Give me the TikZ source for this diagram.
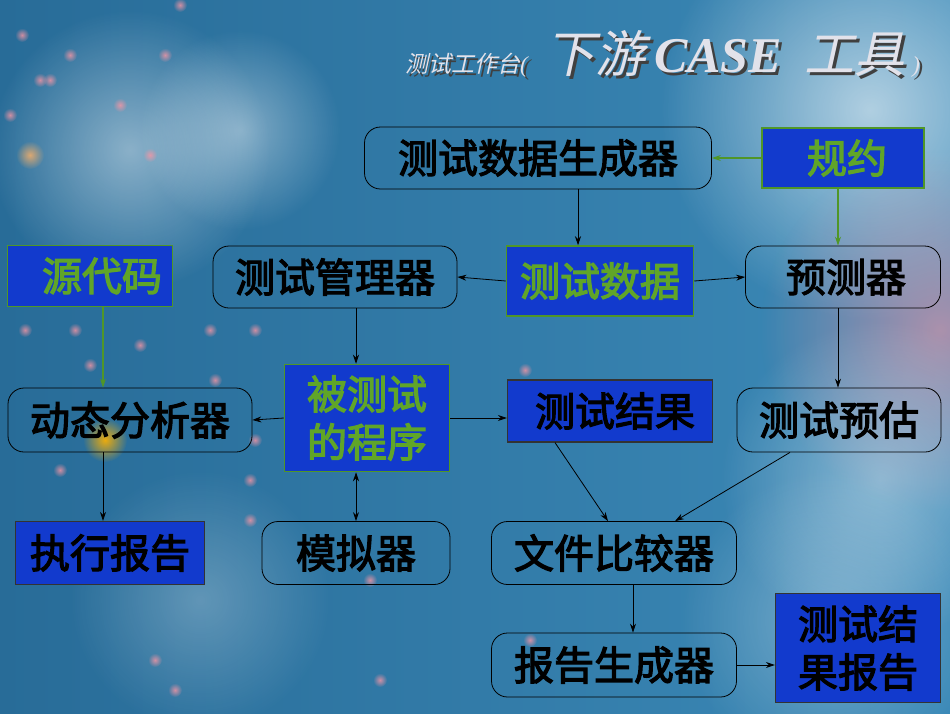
\documentclass[tikz,border=0pt]{standalone}
\usepackage{fontspec}
\newfontfamily\cjk[FakeBold=3]{Noto Sans CJK SC}
\newfontfamily\cjkit[FakeSlant=0.22]{Noto Sans CJK SC}
\newfontfamily\latit{Liberation Serif}
\usetikzlibrary{arrows.meta,fadings}

\definecolor{boxblue}{RGB}{18,58,205}
\definecolor{txtgreen}{RGB}{96,165,40}
\definecolor{linegreen}{RGB}{80,150,40}
\definecolor{bgdark}{RGB}{40,108,152}
\definecolor{bgmid}{RGB}{18,126,182}
\definecolor{bglight}{RGB}{60,138,184}
\definecolor{titlegray}{RGB}{226,226,234}
\definecolor{dotpink}{RGB}{245,150,165}

\tikzfading[name=softdot, inner color=transparent!0, outer color=transparent!100]

\tikzset{
  txt/.style={font=\cjk\fontsize{40}{48}\selectfont, align=center, inner sep=0pt},
  rbox/.style={txt, draw=black, line width=0.8pt, rounded corners=16pt, minimum height=62pt},
  gbox/.style={txt, draw=linegreen, line width=1.5pt, fill=boxblue, text=txtgreen},
  bbox/.style={txt, draw=black!80, line width=1.2pt, fill=boxblue, text=black},
  arr/.style={-{Stealth[length=9pt,width=6pt]}, line width=0.8pt, black},
  garr/.style={arr, linegreen, line width=1.2pt},
}

\begin{document}
\begin{tikzpicture}[x=1pt,y=-1pt]
\useasboundingbox (0,0) rectangle (950,713);

% Background
\shade[left color=bgdark, middle color=bgmid, right color=bglight] (0,0) rectangle (950,713);
\fill[white, opacity=.45, path fading=softdot] (130,150) circle (140);
\fill[white, opacity=.4, path fading=softdot] (240,130) circle (100);
\fill[white, opacity=.25, path fading=softdot] (200,600) circle (130);
\fill[white, opacity=.6, path fading=softdot] (870,110) circle (210);
\fill[dotpink, opacity=.6, path fading=softdot] (940,330) circle (180);
\fill[white, opacity=.4, path fading=softdot] (880,480) circle (160);
\fill[white, opacity=.3, path fading=softdot] (830,620) circle (150);
\fill[orange!60!yellow, opacity=.9, path fading=softdot] (105,440) circle (22);
\fill[orange!60!white, opacity=.8, path fading=softdot] (30,155) circle (14);
\foreach \px/\py in {70/55,22/35,165/55,180/5,40/80,50/80,120/105,150/155,10/115,
  25/330,75/330,140/345,210/330,255/330,90/365,215/380,255/440,
  60/470,250/480,175/550,250/520,370/580,380/680,175/690,155/660,525/370,530/640}
  \fill[dotpink, opacity=.8, path fading=softdot] (\px,\py) circle (7);

% Title
\node[anchor=base west, text=black!75, inner sep=0pt] (titleshadow) at (408,75)
  {\cjkit\fontsize{23}{26}\selectfont 测试工作台\latit\itshape(\hspace{18pt}%
   \cjkit\fontsize{50}{54}\selectfont 下游\,{\latit\bfseries CASE}\ \ \cjkit 工具%
   \latit\itshape\fontsize{23}{26}\selectfont\hspace{8pt})};
\node[anchor=base west, text=titlegray, inner sep=0pt] (title) at (405,72)
  {\cjkit\fontsize{23}{26}\selectfont 测试工作台\latit\itshape(\hspace{18pt}%
   \cjkit\fontsize{50}{54}\selectfont 下游\,{\latit\bfseries CASE}\ \ \cjkit 工具%
   \latit\itshape\fontsize{23}{26}\selectfont\hspace{8pt})};

% Boxes
\node[rbox, minimum width=347pt] (gen) at (538,158) {测试数据生成器};
\node[gbox, minimum width=162pt, minimum height=60pt] (spec) at (843,158) {\hspace*{8pt}规约};
\node[gbox, minimum width=187pt, minimum height=70pt] (data) at (600,281) {测试数据};
\node[rbox, minimum width=244pt] (mgr) at (335,277) {测试管理器};
\node[rbox, minimum width=195pt] (pred) at (843,277) {\hspace*{6pt}预测器};
\node[gbox, minimum width=165pt, minimum height=61pt] (src) at (90,276) {\hspace*{24pt}源代码};
\node[rbox, minimum width=244pt, minimum height=64pt] (dyn) at (130,420) {动态分析器};
\node[gbox, minimum width=165pt, minimum height=107pt] (prog) at (367,418) {被测试\\的程序};
\node[bbox, minimum width=205pt, minimum height=62pt] (res) at (610,411) {\hspace*{10pt}测试结果};
\node[rbox, minimum width=204pt, minimum height=64pt] (est) at (839,420) {测试预估};
\node[bbox, minimum width=189pt, minimum height=63pt] (exec) at (110,553) {执行报告};
\node[rbox, minimum width=188pt, minimum height=63pt] (sim) at (356,553) {模拟器};
\node[rbox, minimum width=245pt, minimum height=63pt] (cmp) at (614,553) {文件比较器};
\node[rbox, minimum width=245pt, minimum height=64pt] (rep) at (614,665) {报告生成器};
\node[bbox, minimum width=165pt, minimum height=109pt] (final) at (858,648) {测试结\\果报告};

% Arrows
\draw[garr] (spec.west) -- (gen.east);
\draw[garr] ([xshift=-5pt]spec.south) -- ([xshift=-5pt]pred.north);
\draw[arr] ([xshift=40pt]gen.south) -- ([xshift=-22pt]data.north);
\draw[arr] (data.west) -- (mgr.east);
\draw[arr] (data.east) -- (pred.west);
\draw[garr] ([xshift=13pt]src.south) -- ([xshift=-27pt]dyn.north);
\draw[arr] (mgr.south -| sim.north) -- (prog.north -| sim.north);
\draw[arr] (prog.west) -- (dyn.east);
\draw[arr] (prog.east) -- (prog.east -| res.west);
\draw[arr] ([xshift=-5pt]pred.south) -- ([xshift=-5pt]pred.south |- est.north);
\draw[arr] ([xshift=-55pt]res.south) -- ([xshift=-6pt]cmp.north);
\draw[arr] ([xshift=-49pt]est.south) -- ([xshift=61pt]cmp.north);
\draw[arr] ([xshift=-27pt]dyn.south) -- ([xshift=-7pt]exec.north);
\draw[arr, {Stealth[length=9pt,width=6pt]}-{Stealth[length=9pt,width=6pt]}] (prog.south -| sim.north) -- (sim.north);
\draw[arr] ([xshift=19pt]cmp.south) -- ([xshift=19pt]rep.north);
\draw[arr] (rep.east) -- (rep.east -| final.west);
\end{tikzpicture}
\end{document}
